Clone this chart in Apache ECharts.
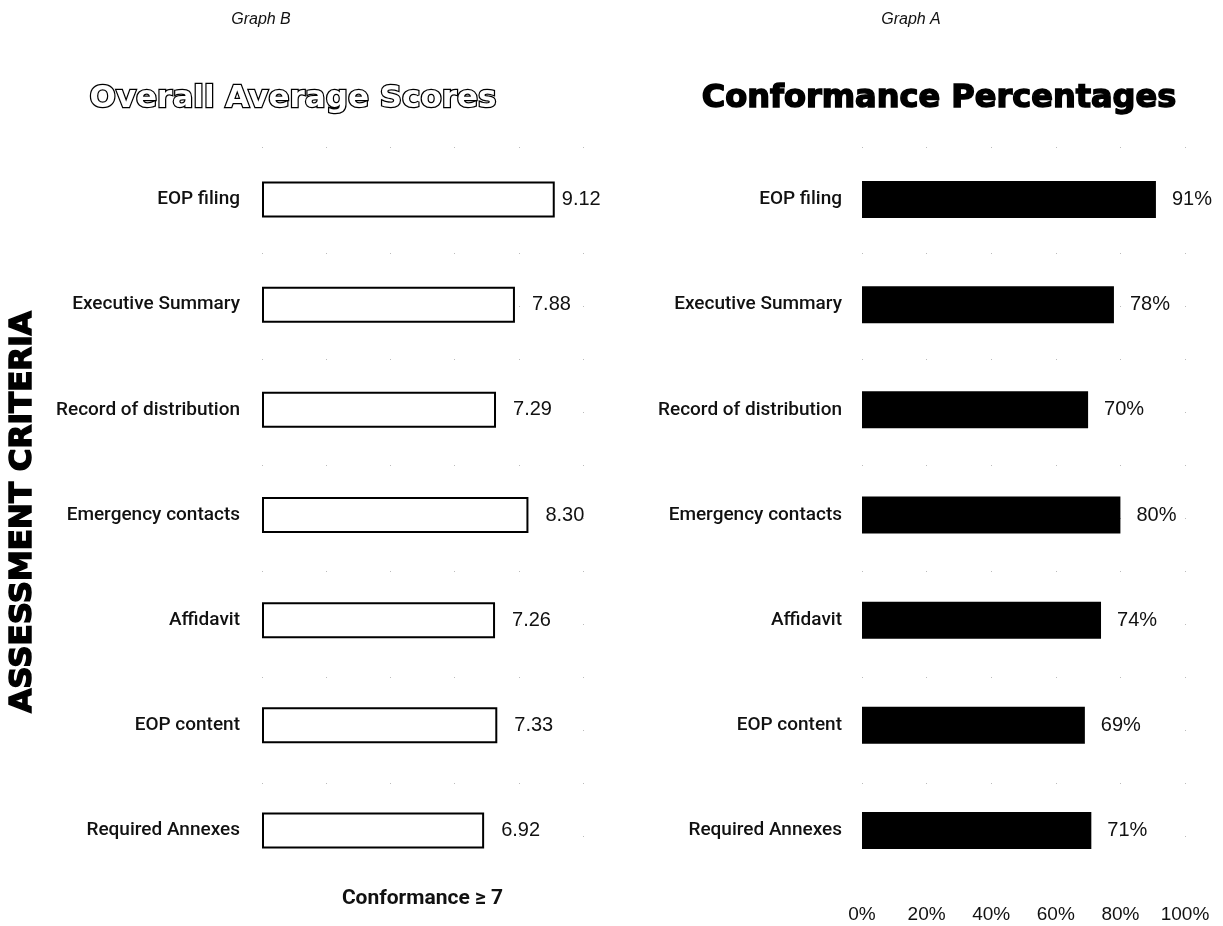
<!DOCTYPE html>
<html>
<head>
<meta charset="utf-8">
<script src="https://cdn.jsdelivr.net/npm/echarts@6/dist/echarts.min.js"></script>
<style>
  html, body { margin: 0; padding: 0; background: #fff; }
  #chart { width: 1223px; height: 926px; }
</style>
</head>
<body>
<div id="chart"></div>
<script>
// Assessment criteria shared by both panels (top to bottom)
const categories = [
  'EOP filing',
  'Executive Summary',
  'Record of distribution',
  'Emergency contacts',
  'Affidavit',
  'EOP content',
  'Required Annexes'
];
// Graph B: overall average scores (0-10 scale)
const averageScores = [9.12, 7.88, 7.29, 8.30, 7.26, 7.33, 6.92];
// Graph A: conformance percentages
const conformancePct = [91, 78, 70, 80, 74, 69, 71];

const labelFont = 'Roboto, "Liberation Sans", sans-serif';
const plain = '"Liberation Sans", Arial, sans-serif';
const heavy = '"DejaVu Sans", "Liberation Sans", sans-serif';

// sparse dotted vertical gridlines
const gridDots = {
  show: true,
  lineStyle: { color: '#bbb', width: 1, type: [1, 52], dashOffset: 0 }
};

const chart = echarts.init(document.getElementById('chart'), null, { renderer: 'canvas' });

// the top score's label sits closer to its bar so it fits inside the panel
const scoreData = averageScores.map((v, i) =>
  i === 0 ? { value: v, label: { distance: 7 } } : v
);

chart.setOption({
  animation: false,
  backgroundColor: '#fff',
  title: [
    { text: 'Graph B', left: 256, top: 7, textAlign: 'center',
      textStyle: { fontFamily: plain, fontStyle: 'italic', fontWeight: 'normal', fontSize: 16, color: '#111' } },
    { text: 'Graph A', left: 906, top: 7, textAlign: 'center',
      textStyle: { fontFamily: plain, fontStyle: 'italic', fontWeight: 'normal', fontSize: 16, color: '#111' } },
    { text: 'Overall Average Scores', left: 288, top: 78, textAlign: 'center',
      textStyle: { fontFamily: heavy, fontWeight: 'bold', fontSize: 31, color: '#fff',
        textBorderColor: '#000', textBorderWidth: 2.5 } },
    { text: 'Conformance Percentages', left: 934, top: 78, textAlign: 'center',
      textStyle: { fontFamily: heavy, fontWeight: 'bold', fontSize: 32, color: '#000',
        textBorderColor: '#000', textBorderWidth: 1.5 } }
  ],
  graphic: [
    {
      type: 'text',
      x: 23, y: 512,
      rotation: Math.PI / 2,
      style: {
        text: 'ASSESSMENT CRITERIA',
        fill: '#000',
        stroke: '#000',
        lineWidth: 1.5,
        font: 'bold 31px ' + heavy,
        textAlign: 'center',
        textVerticalAlign: 'middle'
      }
    }
  ],
  grid: [
    { left: 262, width: 321, top: 147, height: 736, containLabel: false },
    { left: 862, width: 323, top: 147, height: 736, containLabel: false }
  ],
  xAxis: [
    {
      gridIndex: 0, type: 'value', min: 0, max: 10, interval: 2,
      name: 'Conformance \u2265 7', nameLocation: 'middle', nameGap: 5,
      nameTextStyle: { fontFamily: labelFont, fontWeight: 'bold', fontSize: 21, color: '#111',
        verticalAlign: 'top' },
      axisLine: { show: false }, axisTick: { show: false }, axisLabel: { show: false },
      splitLine: gridDots
    },
    {
      gridIndex: 1, type: 'value', min: 0, max: 100, interval: 20,
      axisLine: { show: false }, axisTick: { show: false },
      axisLabel: { formatter: '{value}%', fontFamily: plain, fontSize: 19, color: '#111', margin: 22 },
      splitLine: gridDots
    }
  ],
  yAxis: [
    {
      gridIndex: 0, type: 'category', data: categories, inverse: true,
      axisLine: { show: false }, axisTick: { show: false },
      axisLabel: { fontFamily: labelFont, fontWeight: 500, fontSize: 19, color: '#111', margin: 22 },
      splitLine: { show: false }
    },
    {
      gridIndex: 1, type: 'category', data: categories, inverse: true,
      axisLine: { show: false }, axisTick: { show: false },
      axisLabel: { fontFamily: labelFont, fontWeight: 500, fontSize: 19, color: '#111', margin: 20 },
      splitLine: { show: false }
    }
  ],
  series: [
    {
      type: 'bar', xAxisIndex: 0, yAxisIndex: 0,
      data: scoreData,
      barWidth: 36,
      itemStyle: { color: '#fff', borderColor: '#000', borderWidth: 2 },
      label: {
        show: true, position: 'right', distance: 17,
        formatter: p => Number(p.value).toFixed(2),
        fontFamily: plain, fontSize: 20, color: '#111'
      }
    },
    {
      type: 'bar', xAxisIndex: 1, yAxisIndex: 1,
      data: conformancePct,
      barWidth: 37,
      itemStyle: { color: '#000' },
      label: {
        show: true, position: 'right', distance: 16,
        formatter: '{c}%',
        fontFamily: plain, fontSize: 20, color: '#111'
      }
    }
  ]
});
</script>
</body>
</html>
